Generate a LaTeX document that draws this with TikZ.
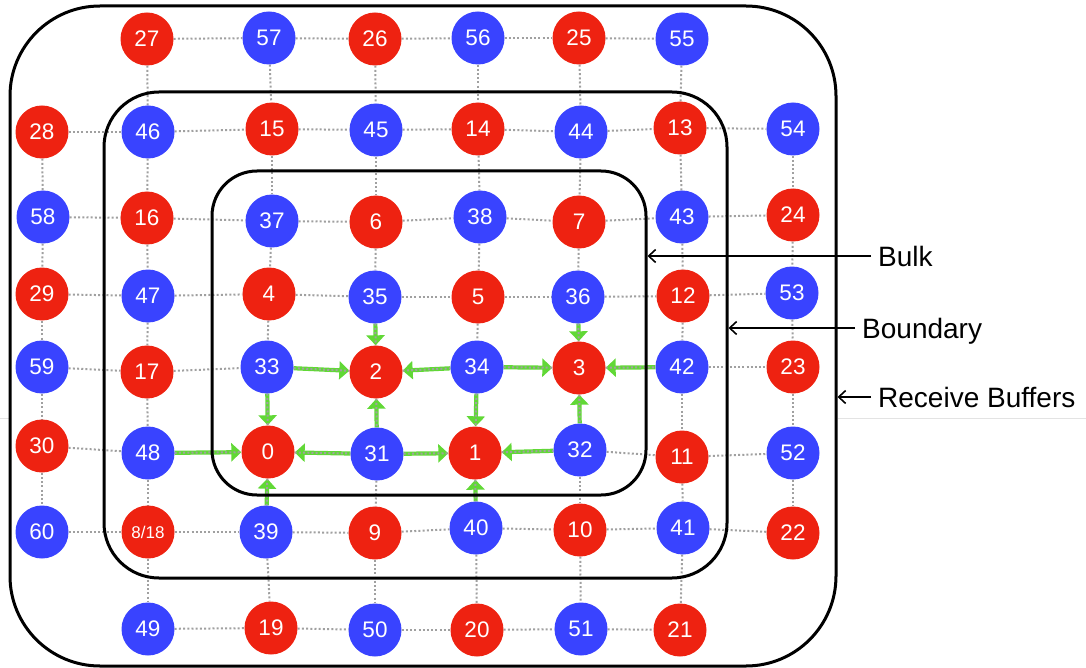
\documentclass[tikz,border=0pt]{standalone}
\usepackage{fontspec}
\setmainfont{Liberation Sans}
\usetikzlibrary{arrows.meta}
\definecolor{nodered}{RGB}{238,34,17}
\definecolor{nodeblue}{RGB}{57,67,255}
\definecolor{flowgreen}{RGB}{97,216,54}
\definecolor{gridgray}{RGB}{160,160,160}
\pgfdeclarelayer{back}
\pgfdeclarelayer{mid}
\pgfsetlayers{back,mid,main}

\begin{document}
\begin{tikzpicture}[x=1pt,y=-1pt,
  cell/.style={circle, minimum size=53pt, inner sep=0pt, text=white,
    font=\fontsize{22.5}{22.5}\selectfont},
  rc/.style={cell, fill=nodered},
  bc/.style={cell, fill=nodeblue},
  link/.style={gridgray, line width=2pt, dash pattern=on 2pt off 2.2pt},
  flow/.style={flowgreen, line width=4.2pt, -{Triangle[length=10pt,width=18pt]}},
  zone/.style={draw, line width=3pt, inner sep=0pt},
  lbl/.style={font=\fontsize{28}{28}\selectfont, anchor=west, inner xsep=7pt,
    inner ysep=0pt, text height=20pt, text depth=0pt},
  pointer/.style={line width=1.6pt, -{Straight Barb[length=7pt,width=13pt]}}
]
\useasboundingbox (0,0) rectangle (1086,668);

% nested regions
\node[zone, rounded corners=90pt, minimum width=826pt, minimum height=660pt] (outer) at (423,336) {};
\node[zone, rounded corners=55pt, minimum width=623pt, minimum height=486pt] (middle) at (415.5,335) {};
\node[zone, rounded corners=45pt, minimum width=434pt, minimum height=324pt] (inner) at (429,333) {};

% grid points
\foreach \n/\x/\y/\s in {
  27/147/39/rc, 57/269/38/bc, 26/375/39/rc, 56/478/38/bc, 25/579/38/rc, 55/682/39/bc,
  28/42/132/rc, 46/148/132/bc, 15/272/129/rc, 45/376/130/bc, 14/478/129/rc, 44/581/132/bc, 13/680/128/rc, 54/793/129/bc,
  58/43/217/bc, 16/147/218/rc, 37/272/221/bc, 6/376/222/rc, 38/480/217/bc, 7/579/222/rc, 43/682/217/bc, 24/793/215/rc,
  29/42/294/rc, 47/148/296/bc, 4/269/294/rc, 35/375/297/bc, 5/478/297/rc, 36/578/297/bc, 12/683/296/rc, 53/792/293/bc,
  59/42/367/bc, 17/147/372/rc, 33/267/367/bc, 2/376/372/rc, 34/477/367/bc, 3/579/368/rc, 42/682/367/bc, 23/793/367/rc,
  30/42/446/rc, 48/148/453/bc, 0/268/452/rc, 31/377/454/bc, 1/475/453/rc, 32/580/450/bc, 11/682/457/rc, 52/793/453/bc,
  60/42/532/bc, 39/266/532/bc, 9/375/533/rc, 40/476/528/bc, 10/580/530/rc, 41/683/528/bc, 22/793/533/rc,
  49/148/629/bc, 19/271/628/rc, 50/375/630/bc, 20/477/630/rc, 51/581/629/bc, 21/680/630/rc}
  \node[\s] (n\n) at (\x,\y) {\n};
\node[rc, font=\fontsize{17}{17}\selectfont] (n8) at (148,532) {8/18};

% neighbour links
\begin{pgfonlayer}{mid}
\foreach \a/\b in {
  27/57,57/26,26/56,56/25,25/55,
  28/46,46/15,15/45,45/14,14/44,44/13,13/54,
  58/16,16/37,37/6,6/38,38/7,7/43,43/24,
  29/47,47/4,4/35,35/5,5/36,36/12,12/53,
  59/17,17/33,33/2,2/34,34/3,3/42,42/23,
  30/48,48/0,0/31,31/1,1/32,32/11,11/52,
  60/8,8/39,39/9,9/40,40/10,10/41,41/22,
  49/19,19/50,50/20,20/51,51/21,
  28/58,58/29,29/59,59/30,30/60,
  27/46,46/16,16/47,47/17,17/48,48/8,8/49,
  57/15,15/37,37/4,4/33,33/0,0/39,39/19,
  26/45,45/6,6/35,35/2,2/31,31/9,9/50,
  56/14,14/38,38/5,5/34,34/1,1/40,40/20,
  25/44,44/7,7/36,36/3,3/32,32/10,10/51,
  55/13,13/43,43/12,12/42,42/11,11/41,41/21,
  54/24,24/53,53/23,23/52,52/22}
  \draw[link] (n\a) -- (n\b);
\end{pgfonlayer}

% data flow
\begin{pgfonlayer}{back}
\foreach \a/\b in {33/2,33/0,35/2,34/2,34/3,34/1,36/3,42/3,
                   31/2,31/0,31/1,48/0,39/0,32/1,32/3,40/1}
  \draw[flow] (n\a) -- (n\b);
\coordinate (fl) at (0,418);
\coordinate (fr) at (1086,418);
\draw[gray!22, line width=0.8pt] (fl) -- (fl -| outer.west);
\draw[gray!22, line width=0.8pt] (fr -| outer.east) -- (fr);
\end{pgfonlayer}

% region labels
\node[lbl] (bulk) at (871,256) {Bulk};
\node[lbl] (bdry) at (855,328) {Boundary};
\node[lbl] (recv) at (871,397) {Receive Buffers};
\draw[pointer] (bulk.west) -- (bulk.west -| inner.east);
\draw[pointer] (bdry.west) -- (bdry.west -| middle.east);
\draw[pointer] (recv.west) -- (recv.west -| outer.east);
\end{tikzpicture}
\end{document}
